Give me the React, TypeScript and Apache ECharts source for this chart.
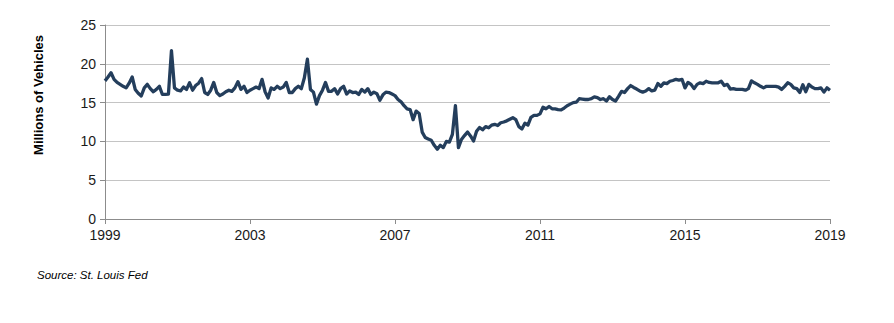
import React, { useEffect, useRef } from "react";
import * as echarts from "echarts";

// Monthly light-vehicle sales, millions (SAAR), as labeled on the chart
const y1999 = [17.8, 18.3, 18.85, 18.0, 17.6, 17.35, 17.1, 16.9, 17.5, 18.3, 16.7, 16.2];
const y2000 = [15.85, 16.9, 17.35, 16.8, 16.4, 16.7, 17.1, 16.05, 16.05, 16.1, 21.7, 16.9];
const y2001 = [16.6, 16.5, 17.0, 16.7, 17.55, 16.6, 17.2, 17.5, 18.1, 16.3, 16.05, 16.6];
const y2002 = [17.6, 16.3, 15.9, 16.1, 16.4, 16.6, 16.45, 16.9, 17.7, 16.7, 17.1, 16.3];
const y2003 = [16.6, 16.8, 17.0, 16.8, 18.0, 16.4, 15.6, 16.9, 16.7, 17.1, 16.8, 17.0];
const y2004 = [17.6, 16.3, 16.3, 16.8, 17.1, 16.8, 18.2, 20.6, 16.7, 16.35, 14.8, 15.9];
const y2005 = [16.6, 17.6, 16.45, 16.45, 16.8, 16.1, 16.8, 17.1, 16.1, 16.5, 16.3, 16.35];
const y2006 = [16.05, 16.7, 16.35, 16.8, 16.05, 16.35, 16.15, 15.3, 16.0, 16.35, 16.3, 16.1];
const y2007 = [15.9, 15.4, 15.1, 14.6, 14.2, 14.1, 12.8, 13.9, 13.6, 11.2, 10.5, 10.3];
const y2008 = [10.15, 9.5, 9.0, 9.5, 9.2, 10.0, 9.9, 10.9, 14.6, 9.2, 10.25, 10.75];
const y2009 = [11.2, 10.7, 10.05, 11.3, 11.8, 11.5, 11.9, 11.75, 12.1, 12.2, 12.05, 12.4];
const y2010 = [12.5, 12.65, 12.85, 13.05, 12.8, 11.9, 11.6, 12.35, 12.1, 13.1, 13.35, 13.35];
const y2011 = [13.55, 14.4, 14.2, 14.5, 14.2, 14.2, 14.1, 14.05, 14.3, 14.6, 14.8, 15.0];
const y2012 = [15.05, 15.5, 15.45, 15.4, 15.4, 15.5, 15.75, 15.65, 15.4, 15.5, 15.2, 15.75];
const y2013 = [15.4, 15.2, 15.8, 16.45, 16.3, 16.8, 17.2, 16.95, 16.75, 16.5, 16.35, 16.5];
const y2014 = [16.8, 16.5, 16.6, 17.45, 17.1, 17.55, 17.45, 17.75, 17.85, 18.0, 17.9, 18.0];
const y2015 = [16.9, 17.6, 17.35, 16.8, 17.35, 17.55, 17.45, 17.75, 17.6, 17.55, 17.55, 17.55];
const y2016 = [17.75, 17.2, 17.35, 16.75, 16.8, 16.7, 16.7, 16.7, 16.6, 16.8, 17.8, 17.55];
const y2017 = [17.35, 17.1, 16.9, 17.1, 17.1, 17.1, 17.1, 17.0, 16.7, 17.1, 17.55, 17.35];
const y2018 = [16.9, 16.8, 16.3, 17.3, 16.4, 17.35, 17.0, 16.8, 16.8, 16.9, 16.35, 16.9];
const y2019 = [16.6];

const startYear = 1999;
const yTicks = { min: 0, max: 25, interval: 5 };
const xTicks = { min: 1999, max: 2019, interval: 4 };
const yAxisTitle = "Millions of Vehicles";
const sourceNote = "Source: St. Louis Fed";

const monthly = [
  ...y1999, ...y2000, ...y2001, ...y2002, ...y2003, ...y2004, ...y2005,
  ...y2006, ...y2007, ...y2008, ...y2009, ...y2010, ...y2011, ...y2012,
  ...y2013, ...y2014, ...y2015, ...y2016, ...y2017, ...y2018, ...y2019,
];

export default function App() {
  const ref = useRef<HTMLDivElement>(null);
  useEffect(() => {
    document.body.style.margin = "0";
    if (!ref.current) return;
    const chart = echarts.init(ref.current, null, { renderer: "svg" });
    const font = "'Liberation Sans', Arial, sans-serif";
    const data = monthly.map((v, i) => [startYear + i / 12, v]);
    chart.setOption({
      animation: false,
      backgroundColor: "#ffffff",
      grid: { left: 105, right: 64, top: 25, bottom: 104 },
      xAxis: {
        type: "value",
        min: xTicks.min,
        max: xTicks.max,
        interval: xTicks.interval,
        axisLine: { show: true, lineStyle: { color: "#8c8c8c", width: 1 } },
        axisTick: { show: true, length: 5, lineStyle: { color: "#8c8c8c" } },
        axisLabel: {
          color: "#1a1a1a",
          fontSize: 14,
          fontFamily: font,
          margin: 9,
          formatter: (v: number) => String(v),
        },
        splitLine: { show: false },
      },
      yAxis: {
        type: "value",
        min: yTicks.min,
        max: yTicks.max,
        interval: yTicks.interval,
        axisLine: { show: true, lineStyle: { color: "#8c8c8c", width: 1 } },
        axisTick: { show: true, length: 5, lineStyle: { color: "#8c8c8c" } },
        axisLabel: { color: "#1a1a1a", fontSize: 14, fontFamily: font, margin: 9 },
        splitLine: { show: true, lineStyle: { color: "#c4c4c4", width: 1 } },
      },
      graphic: [
        {
          type: "text",
          x: 38,
          y: 95,
          rotation: Math.PI / 2,
          style: {
            text: yAxisTitle,
            font: `bold 13px ${font}`,
            fill: "#000000",
            textAlign: "center",
            textVerticalAlign: "middle",
          },
        },
        {
          type: "text",
          x: 37,
          y: 275,
          style: {
            text: sourceNote,
            font: `italic 11.5px ${font}`,
            fill: "#000000",
            textAlign: "left",
            textVerticalAlign: "middle",
          },
        },
      ],
      series: [
        {
          type: "line",
          data,
          showSymbol: false,
          symbol: "none",
          lineStyle: { color: "#243e5c", width: 3.3, join: "round" },
          emphasis: { disabled: true },
        },
      ],
    });
    return () => chart.dispose();
  }, []);
  return <div ref={ref} style={{ width: 894, height: 323 }} />;
}
